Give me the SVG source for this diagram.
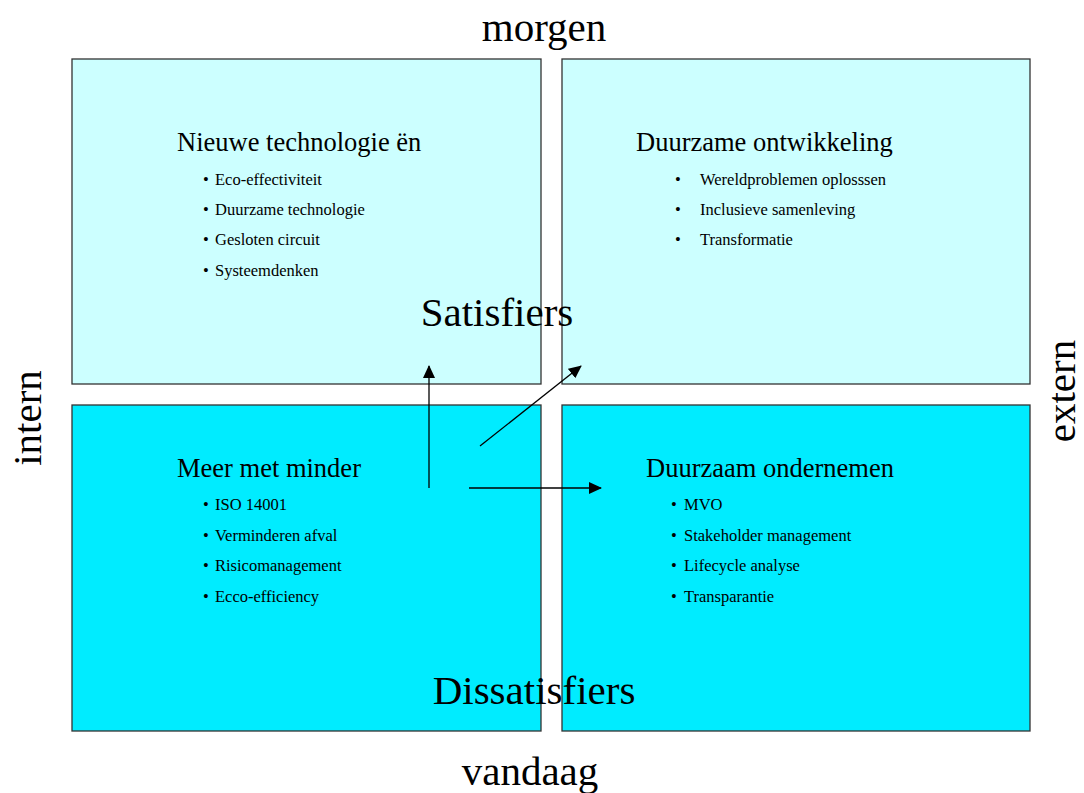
<svg xmlns="http://www.w3.org/2000/svg" width="1084" height="793" viewBox="0 0 1084 793">
<style>
text{font-family:"Liberation Serif","Times New Roman",serif;fill:#000}
.box{stroke:#333;stroke-width:1.3}
.top{fill:#CCFFFF}
.bot{fill:#00ECFF}
.t{font-size:26.5px}
.b{font-size:16.5px}
.big{font-size:41px}
.c{stroke:#000;stroke-width:1.3;fill:none}
</style>
<defs>
<marker id="ah" markerWidth="13" markerHeight="12" refX="12" refY="6" orient="auto" markerUnits="userSpaceOnUse" viewBox="0 0 13 12">
<path d="M0,0 L13,6 L0,12 z" fill="#000"/>
</marker>
</defs>
<rect width="1084" height="793" fill="#fff"/>
<g id="nieuwe">
<rect class="box top" x="72" y="59" width="469" height="325"/>
<text class="t" x="177" y="151">Nieuwe technologie ën</text>
<text class="b" x="203" y="185">•</text><text class="b" x="215" y="185">Eco-effectiviteit</text>
<text class="b" x="203" y="215">•</text><text class="b" x="215" y="215">Duurzame technologie</text>
<text class="b" x="203" y="245">•</text><text class="b" x="215" y="245">Gesloten circuit</text>
<text class="b" x="203" y="276">•</text><text class="b" x="215" y="276">Systeemdenken</text>
</g>
<g id="duurzame">
<rect class="box top" x="562" y="59" width="468" height="325"/>
<text class="t" x="636" y="151">Duurzame ontwikkeling</text>
<text class="b" x="675" y="185">•</text><text class="b" x="700" y="185">Wereldproblemen oplosssen</text>
<text class="b" x="675" y="215">•</text><text class="b" x="700" y="215">Inclusieve samenleving</text>
<text class="b" x="675" y="245">•</text><text class="b" x="700" y="245">Transformatie</text>
</g>
<g id="meer">
<rect class="box bot" x="72" y="405" width="469" height="326"/>
<text class="t" x="177" y="477">Meer met minder</text>
<text class="b" x="203" y="510">•</text><text class="b" x="215" y="510">ISO 14001</text>
<text class="b" x="203" y="541">•</text><text class="b" x="215" y="541">Verminderen afval</text>
<text class="b" x="203" y="571">•</text><text class="b" x="215" y="571">Risicomanagement</text>
<text class="b" x="203" y="602">•</text><text class="b" x="215" y="602">Ecco-efficiency</text>
</g>
<g id="ondernemen">
<rect class="box bot" x="562" y="405" width="468" height="326"/>
<text class="t" x="646" y="477">Duurzaam ondernemen</text>
<text class="b" x="671" y="510">•</text><text class="b" x="684" y="510">MVO</text>
<text class="b" x="671" y="541">•</text><text class="b" x="684" y="541">Stakeholder management</text>
<text class="b" x="671" y="571">•</text><text class="b" x="684" y="571">Lifecycle analyse</text>
<text class="b" x="671" y="602">•</text><text class="b" x="684" y="602">Transparantie</text>
</g>
<g id="labels">
<text class="big" x="544" y="41" text-anchor="middle">morgen</text>
<text class="big" x="530" y="785" text-anchor="middle">vandaag</text>
<text class="big" x="497" y="326" text-anchor="middle">Satisfiers</text>
<text class="big" x="534" y="704" text-anchor="middle">Dissatisfiers</text>
<text class="big" transform="translate(41,418) rotate(-90)" text-anchor="middle">intern</text>
<text class="big" transform="translate(1075,391) rotate(-90)" text-anchor="middle">extern</text>
</g>
<g id="connectors">
<line class="c" x1="429" y1="488" x2="429" y2="366" marker-end="url(#ah)"/>
<line class="c" x1="480" y1="446" x2="581" y2="366" marker-end="url(#ah)"/>
<line class="c" x1="469" y1="488" x2="601" y2="488" marker-end="url(#ah)"/>
</g>
</svg>
